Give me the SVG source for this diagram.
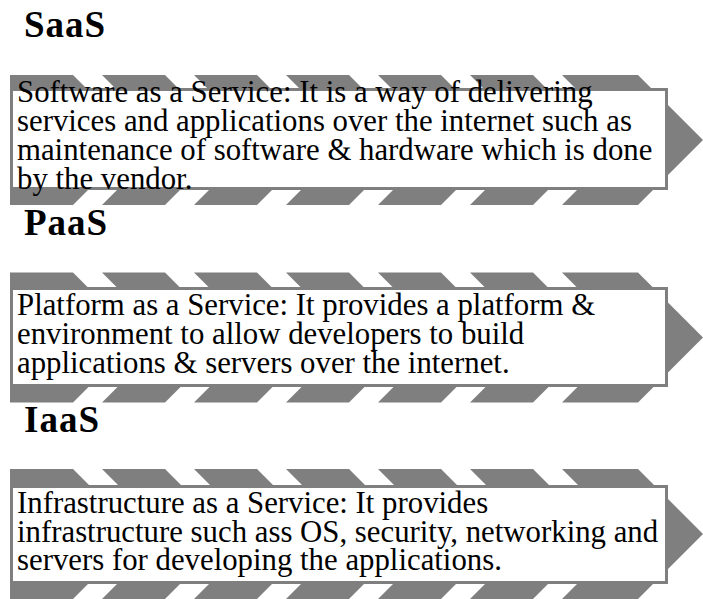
<svg xmlns="http://www.w3.org/2000/svg" width="703" height="599" viewBox="0 0 703 599">
<defs>
<style>
.chev{fill:#7f7f7f;}
.box{fill:#ffffff;stroke:#7f7f7f;stroke-width:3;}
.title{font-family:"Liberation Serif","Times New Roman",serif;font-size:37px;font-weight:bold;fill:#000;letter-spacing:1px;}
.body{font-family:"Liberation Serif","Times New Roman",serif;font-size:30.8px;fill:#000;}
</style>
<g id="chevrons">
<polygon class="chev" points="10,0 73,0 138,65 73,130 10,130"/>
<polygon class="chev" points="102,0 165,0 230,65 165,130 102,130 167,65"/>
<polygon class="chev" points="194,0 257,0 322,65 257,130 194,130 259,65"/>
<polygon class="chev" points="286,0 349,0 414,65 349,130 286,130 351,65"/>
<polygon class="chev" points="378,0 441,0 506,65 441,130 378,130 443,65"/>
<polygon class="chev" points="470,0 533,0 598,65 533,130 470,130 535,65"/>
<polygon class="chev" points="562,0 638,0 703,65 638,130 562,130 627,65"/>
</g>
</defs>
<g id="connectors"></g>
<g id="saas">
<text class="title" x="24" y="37">SaaS</text>
<use href="#chevrons" transform="translate(0,75)"/>
<rect class="box" x="11.5" y="89.5" width="655" height="99"/>
<text class="body" x="17"><tspan x="17" y="102">Software as a Service: It is a way of delivering</tspan><tspan x="17" y="131">services and applications over the internet such as</tspan><tspan x="17" y="160">maintenance of software &amp; hardware which is done</tspan><tspan x="17" y="189">by the vendor.</tspan></text>
</g>
<g id="paas">
<text class="title" x="24" y="235">PaaS</text>
<use href="#chevrons" transform="translate(0,272.5)"/>
<rect class="box" x="11.5" y="288.5" width="655" height="97"/>
<text class="body"><tspan x="17" y="315">Platform as a Service: It provides a platform &amp;</tspan><tspan x="17" y="344">environment to allow developers to build</tspan><tspan x="17" y="373">applications &amp; servers over the internet.</tspan></text>
</g>
<g id="iaas">
<text class="title" x="24" y="432">IaaS</text>
<use href="#chevrons" transform="translate(0,469)"/>
<rect class="box" x="11.5" y="486.5" width="655" height="96"/>
<text class="body"><tspan x="17" y="513">Infrastructure as a Service: It provides</tspan><tspan x="17" y="542">infrastructure such ass OS, security, networking and</tspan><tspan x="17" y="570">servers for developing the applications.</tspan></text>
</g>
</svg>
